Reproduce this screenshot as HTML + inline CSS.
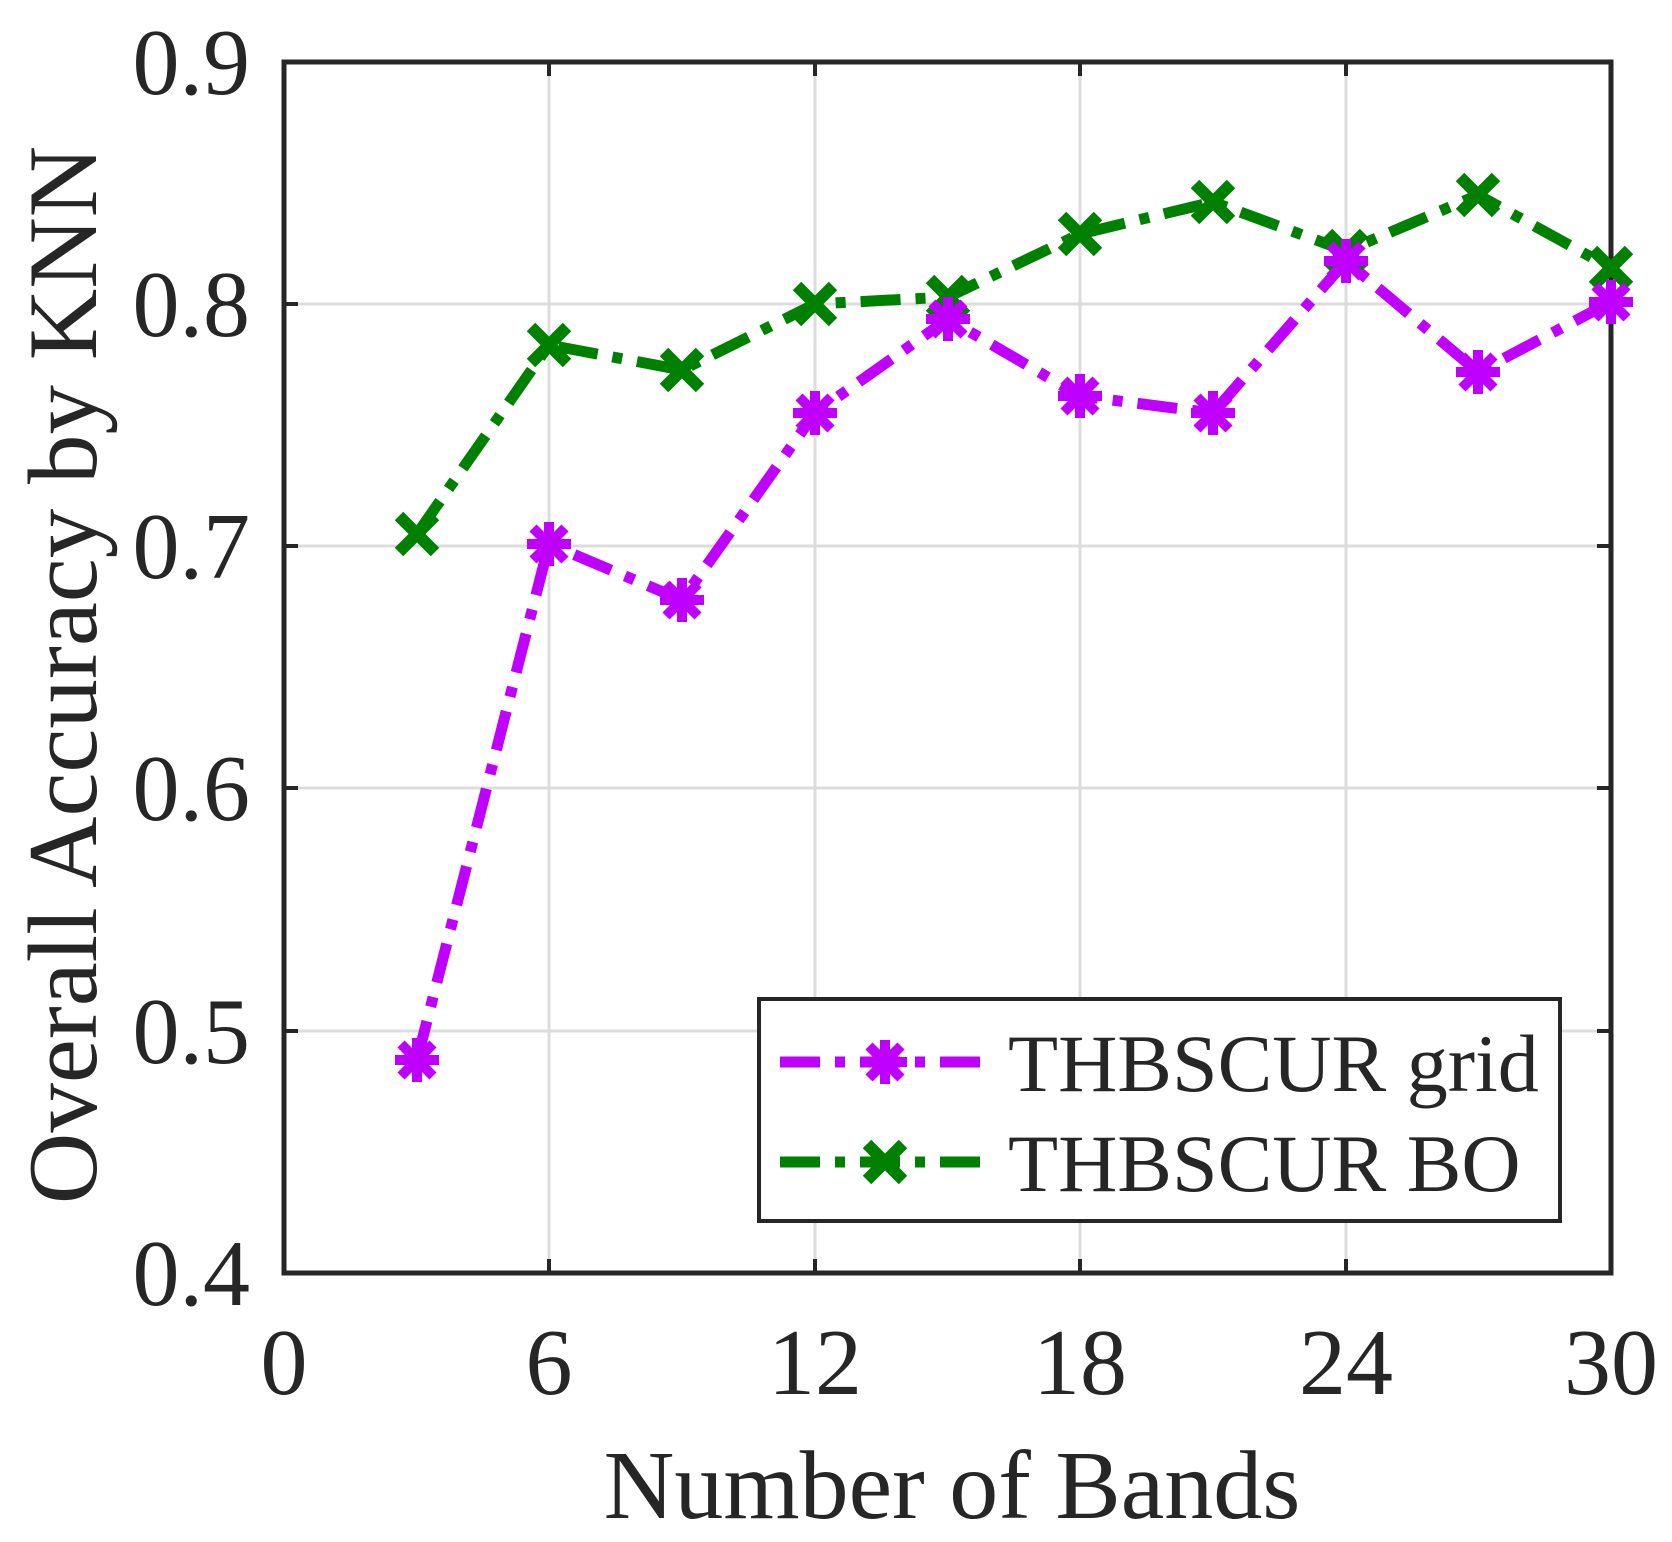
<!DOCTYPE html>
<html><head><meta charset="utf-8"><style>html,body{margin:0;padding:0;background:#fff}svg{display:block}</style></head>
<body>
<svg width="1672" height="1542" viewBox="0 0 1672 1542" xmlns="http://www.w3.org/2000/svg" font-family="Liberation Serif, serif" fill="#262626">
<defs>
<g id="ast" stroke="#C000FF" stroke-width="10" stroke-linecap="butt">
<line x1="-22" y1="0" x2="22" y2="0"/><line x1="0" y1="-22" x2="0" y2="22"/>
<line x1="-16" y1="-16" x2="16" y2="16"/><line x1="-16" y1="16" x2="16" y2="-16"/>
<circle r="13" fill="#C000FF" stroke="none"/>
</g>
<g id="xm" stroke="#008000" stroke-width="12">
<line x1="-18" y1="-18" x2="18" y2="18"/><line x1="-18" y1="18" x2="18" y2="-18"/>
</g>
</defs>
<rect width="1672" height="1542" fill="#fff"/>
<g stroke="#dcdcdc" stroke-width="3">
<line x1="549" y1="62" x2="549" y2="1273"/><line x1="815" y1="62" x2="815" y2="1273"/>
<line x1="1080" y1="62" x2="1080" y2="1273"/><line x1="1346" y1="62" x2="1346" y2="1273"/>
<line x1="284" y1="304" x2="1611" y2="304"/><line x1="284" y1="546" x2="1611" y2="546"/>
<line x1="284" y1="788" x2="1611" y2="788"/><line x1="284" y1="1031" x2="1611" y2="1031"/>
</g>
<g stroke="#262626" stroke-width="4">
<path d="M549 1273v-14M815 1273v-14M1080 1273v-14M1346 1273v-14M549 62v14M815 62v14M1080 62v14M1346 62v14M284 304h14M284 546h14M284 788h14M284 1031h14M1611 304h-14M1611 546h-14M1611 788h-14M1611 1031h-14"/>
</g>
<rect x="284" y="62" width="1327" height="1211" fill="none" stroke="#262626" stroke-width="5"/>
<g font-size="94" text-anchor="end">
<text x="250" y="94">0.9</text><text x="250" y="336">0.8</text><text x="250" y="578">0.7</text>
<text x="250" y="820">0.6</text><text x="250" y="1063">0.5</text><text x="250" y="1305">0.4</text>
</g>
<g font-size="94" text-anchor="middle">
<text x="284" y="1394">0</text><text x="549" y="1394">6</text><text x="815" y="1394">12</text>
<text x="1080" y="1394">18</text><text x="1346" y="1394">24</text><text x="1611" y="1394">30</text>
</g>
<text x="952" y="1518" font-size="98" text-anchor="middle">Number of Bands</text>
<text transform="translate(96,675) rotate(-90)" font-size="99" text-anchor="middle">Overall Accuracy by KNN</text>
<polyline fill="none" stroke="#008000" stroke-width="11" stroke-dasharray="40,15,10,15"
points="417,534 549,345 682,370 815,304 948,297 1080,234 1213,202 1346,251 1478,195 1611,268"/>
<polyline fill="none" stroke="#C000FF" stroke-width="11" stroke-dasharray="40,15,10,15"
points="417,1060 549,544 682,600 815,413 948,319 1080,396 1213,413 1346,261 1478,372 1611,302"/>
<g>
<use href="#xm" x="417" y="534"/><use href="#xm" x="549" y="345"/><use href="#xm" x="682" y="370"/>
<use href="#xm" x="815" y="304"/><use href="#xm" x="948" y="297"/><use href="#xm" x="1080" y="234"/>
<use href="#xm" x="1213" y="202"/><use href="#xm" x="1346" y="251"/><use href="#xm" x="1478" y="195"/>
<use href="#xm" x="1611" y="268"/>
<use href="#ast" x="417" y="1060"/><use href="#ast" x="549" y="544"/><use href="#ast" x="682" y="600"/>
<use href="#ast" x="815" y="413"/><use href="#ast" x="948" y="319"/><use href="#ast" x="1080" y="396"/>
<use href="#ast" x="1213" y="413"/><use href="#ast" x="1346" y="261"/><use href="#ast" x="1478" y="372"/>
<use href="#ast" x="1611" y="302"/>
</g>
<rect x="759" y="999" width="801" height="222" fill="#fff" stroke="#262626" stroke-width="4"/>
<line x1="780" y1="1062" x2="990" y2="1062" stroke="#C000FF" stroke-width="11" stroke-dasharray="40,15,10,15"/>
<use href="#ast" x="885" y="1062"/>
<line x1="780" y1="1162" x2="990" y2="1162" stroke="#008000" stroke-width="11" stroke-dasharray="40,15,10,15"/>
<use href="#xm" x="885" y="1162"/>
<text x="1008" y="1091" font-size="82">THBSCUR grid</text>
<text x="1008" y="1191" font-size="82">THBSCUR BO</text>
</svg>
</body></html>
